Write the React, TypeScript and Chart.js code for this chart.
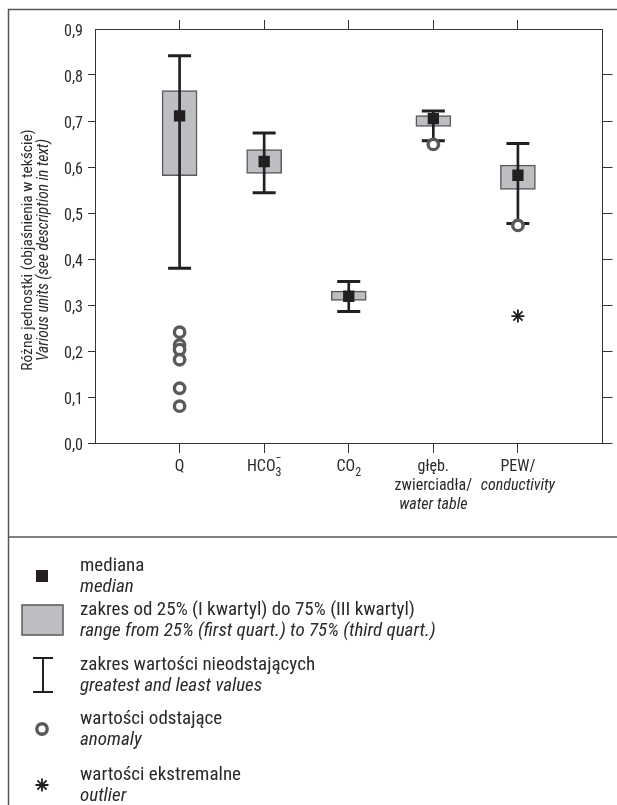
import React, { useEffect, useRef } from 'react';
import { Chart, registerables } from 'chart.js';

Chart.register(...registerables);

// ---------- data ----------
const categoryPositions = [1, 2, 3, 4, 5];
const categoryNames = ['Q', 'HCO3-', 'CO2', 'głęb. zwierciadła / water table', 'PEW / conductivity'];
const whiskerLow = [0.38, 0.544, 0.286, 0.657, 0.477];
const quartile1 = [0.581, 0.586, 0.31, 0.688, 0.551];
const medianValues = [0.711, 0.612, 0.319, 0.705, 0.582];
const quartile3 = [0.766, 0.638, 0.33, 0.712, 0.604];
const whiskerHigh = [0.842, 0.674, 0.351, 0.722, 0.651];

const anomalyCategory = [1, 1, 1, 1, 1, 1, 4, 5];
const anomalyValues = [0.241, 0.213, 0.203, 0.181, 0.119, 0.08, 0.649, 0.473];
const extremeCategory = [5];
const extremeValues = [0.276];

const yTickValues = [0, 0.1, 0.2, 0.3, 0.4, 0.5, 0.6, 0.7, 0.8, 0.9];

type Part = { text: string; italic?: boolean; sub?: boolean; overMinus?: boolean };
const xLabelLines: Part[][][] = [
  [[{ text: 'Q' }]],
  [[{ text: 'HCO' }, { text: '3', sub: true, overMinus: true }]],
  [[{ text: 'CO' }, { text: '2', sub: true }]],
  [[{ text: 'głęb.' }], [{ text: 'zwierciadła/' }], [{ text: 'water table', italic: true }]],
  [[{ text: 'PEW/' }], [{ text: 'conductivity', italic: true }]],
];

const yTitleLines = ['Różne jednostki (objaśnienia w tekście)', 'Various units (see description in text)'];

const legendSymbols = ['median', 'box', 'whisker', 'anomaly', 'extreme'];
const legendPolish = [
  'mediana',
  'zakres od 25% (I kwartyl) do 75% (III kwartyl)',
  'zakres wartości nieodstających',
  'wartości odstające',
  'wartości ekstremalne',
];
const legendEnglish = [
  'median',
  'range from 25% (first quart.) to 75% (third quart.)',
  'greatest and least values',
  'anomaly',
  'outlier',
];

// ---------- style ----------
const FONT = "'Liberation Sans Narrow', 'Arial Narrow', 'Roboto Condensed', 'DejaVu Sans Condensed', sans-serif";
const TEXT = '#2a2a2a';
const AXIS = '#333333';
const BOX_FILL = '#bdbec2';
const BOX_EDGE = '#5a5a5c';
const DARK = '#231f20';
const RING = '#5a5a5c';

function fmt(v: number) {
  return (Math.round(v * 10) / 10).toFixed(1).replace('.', ',');
}

function drawParts(ctx: CanvasRenderingContext2D, parts: Part[], cx: number, baseline: number, size: number) {
  const segs = parts.map((p) => {
    const fs = p.sub ? Math.round(size * 0.78) : size;
    ctx.font = `${p.italic ? 'italic ' : ''}${fs}px ${FONT}`;
    return { p, fs, w: ctx.measureText(p.text).width };
  });
  const total = segs.reduce((a, s) => a + s.w, 0);
  let x = cx - total / 2;
  for (const s of segs) {
    ctx.font = `${s.p.italic ? 'italic ' : ''}${s.fs}px ${FONT}`;
    const dy = s.p.sub ? size * 0.3 : 0;
    ctx.textAlign = 'left';
    ctx.fillText(s.p.text, x, baseline + dy);
    if (s.p.overMinus) {
      ctx.textAlign = 'center';
      ctx.fillText('\u2212', x + s.w / 2, baseline - size * 0.55);
    }
    x += s.w;
  }
}

const decorPlugin = {
  id: 'decor',
  beforeDraw(chart: any) {
    const ctx: CanvasRenderingContext2D = chart.ctx;
    ctx.save();
    ctx.fillStyle = '#ffffff';
    ctx.fillRect(0, 0, chart.width, chart.height);
    ctx.restore();
  },
  afterDraw(chart: any) {
    const ctx: CanvasRenderingContext2D = chart.ctx;
    const xs = chart.scales.x;
    const area = chart.chartArea;
    ctx.save();

    // outer frame and separator
    ctx.strokeStyle = '#555';
    ctx.lineWidth = 1.5;
    ctx.beginPath();
    ctx.moveTo(8.5, 805);
    ctx.lineTo(8.5, 9.5);
    ctx.lineTo(617, 9.5);
    ctx.moveTo(8, 537);
    ctx.lineTo(617, 537);
    ctx.stroke();

    // y title
    ctx.fillStyle = TEXT;
    ctx.textBaseline = 'middle';
    ctx.textAlign = 'center';
    ctx.save();
    ctx.translate(28, 250);
    ctx.rotate(-Math.PI / 2);
    ctx.font = `15.5px ${FONT}`;
    ctx.fillText(yTitleLines[0], 0, 0);
    ctx.font = `italic 15.5px ${FONT}`;
    ctx.fillText(yTitleLines[1], 0, 16);
    ctx.restore();

    // x labels
    ctx.textBaseline = 'alphabetic';
    categoryPositions.forEach((v, i) => {
      const px = xs.getPixelForValue(v);
      xLabelLines[i].forEach((line, j) => {
        drawParts(ctx, line, px, area.bottom + 28 + j * 19, 16);
      });
    });

    // legend
    const rows = [566, 610, 665, 719, 775];
    ctx.textAlign = 'left';
    ctx.textBaseline = 'middle';
    legendSymbols.forEach((sym, i) => {
      const y = rows[i];
      ctx.fillStyle = TEXT;
      ctx.font = `19px ${FONT}`;
      ctx.fillText(legendPolish[i], 80, y);
      ctx.font = `italic 19px ${FONT}`;
      ctx.fillText(legendEnglish[i], 80, y + 21);
      const sy = y + 10;
      if (sym === 'median') {
        ctx.fillStyle = DARK;
        ctx.fillRect(36, sy - 6, 12, 12);
      } else if (sym === 'box') {
        ctx.fillStyle = BOX_FILL;
        ctx.strokeStyle = BOX_EDGE;
        ctx.lineWidth = 1.5;
        ctx.fillRect(22, sy - 15, 41, 30);
        ctx.strokeRect(22, sy - 15, 41, 30);
      } else if (sym === 'whisker') {
        ctx.strokeStyle = DARK;
        ctx.lineWidth = 2;
        ctx.beginPath();
        ctx.moveTo(43, sy - 17);
        ctx.lineTo(43, sy + 17);
        ctx.moveTo(33, sy - 17);
        ctx.lineTo(53, sy - 17);
        ctx.moveTo(33, sy + 17);
        ctx.lineTo(53, sy + 17);
        ctx.stroke();
      } else if (sym === 'anomaly') {
        ctx.strokeStyle = RING;
        ctx.lineWidth = 3.4;
        ctx.beginPath();
        ctx.arc(42, sy, 5.2, 0, Math.PI * 2);
        ctx.stroke();
      } else if (sym === 'extreme') {
        ctx.strokeStyle = DARK;
        ctx.lineWidth = 1.8;
        ctx.beginPath();
        const r = 6.5;
        for (let k = 0; k < 4; k++) {
          const a = (k * Math.PI) / 4;
          ctx.moveTo(42 - r * Math.cos(a), sy - r * Math.sin(a));
          ctx.lineTo(42 + r * Math.cos(a), sy + r * Math.sin(a));
        }
        ctx.stroke();
      }
    });

    ctx.restore();
  },
};

export default function App() {
  const ref = useRef<HTMLCanvasElement | null>(null);

  useEffect(() => {
    const canvas = ref.current;
    if (!canvas) return;

    const boxData = categoryPositions.map((x, i) => ({ x, y: [quartile1[i], quartile3[i]] }));
    const whiskerData = categoryPositions.map((x, i) => ({ x, y: [whiskerLow[i], whiskerHigh[i]] }));
    const capData = categoryPositions.flatMap((x, i) => [
      { x, y: whiskerLow[i] },
      { x, y: whiskerHigh[i] },
    ]);
    const medianData = categoryPositions.map((x, i) => ({ x, y: medianValues[i] }));
    const anomalyData = anomalyCategory.map((x, i) => ({ x, y: anomalyValues[i] }));
    const extremeData = extremeCategory.map((x, i) => ({ x, y: extremeValues[i] }));

    const catTicks = (s: any) => {
      s.ticks = categoryPositions.map((v) => ({ value: v }));
    };
    const yTicks = (s: any) => {
      s.ticks = yTickValues.map((v) => ({ value: v }));
    };
    const yTickColor = (c: any) => (c.tick && c.tick.value >= 0.85 ? 'rgba(0,0,0,0)' : AXIS);

    const chart = new Chart(canvas, {
      type: 'bar',
      data: {
        datasets: [
          {
            type: 'scatter',
            label: 'mediana',
            data: medianData,
            pointStyle: 'rect',
            pointRadius: 8,
            backgroundColor: DARK,
            borderColor: DARK,
            borderWidth: 0,
            xAxisID: 'x',
            yAxisID: 'y',
            order: 0,
          },
          {
            type: 'scatter',
            label: 'wartości odstające',
            data: anomalyData,
            pointStyle: 'circle',
            pointRadius: 5.2,
            borderWidth: 3.4,
            borderColor: RING,
            backgroundColor: '#ffffff',
            xAxisID: 'x',
            yAxisID: 'y',
            order: 1,
          },
          {
            type: 'scatter',
            label: 'wartości ekstremalne',
            data: extremeData,
            pointStyle: 'star',
            pointRadius: 6.5,
            borderWidth: 1.8,
            borderColor: DARK,
            backgroundColor: DARK,
            xAxisID: 'x',
            yAxisID: 'y',
            order: 1,
          },
          {
            type: 'scatter',
            label: 'caps',
            data: capData,
            pointStyle: 'line',
            pointRadius: 11.5,
            borderWidth: 3,
            borderColor: DARK,
            backgroundColor: DARK,
            xAxisID: 'x',
            yAxisID: 'y',
            order: 2,
          },
          {
            type: 'bar',
            label: 'zakres wartości nieodstających',
            data: whiskerData as any,
            grouped: false,
            barThickness: 2,
            maxBarThickness: 2,
            backgroundColor: DARK,
            borderWidth: 0,
            xAxisID: 'x',
            yAxisID: 'y',
            order: 3,
          },
          {
            type: 'bar',
            label: 'zakres od 25% do 75%',
            data: boxData as any,
            grouped: false,
            barThickness: 35,
            maxBarThickness: 35,
            backgroundColor: BOX_FILL,
            borderColor: BOX_EDGE,
            borderWidth: 1.5,
            borderSkipped: false,
            xAxisID: 'x',
            yAxisID: 'y',
            order: 4,
          },
        ] as any,
      },
      options: {
        responsive: false,
        animation: false,
        devicePixelRatio: 1,
        events: [],
        layout: { padding: { top: 0, left: 0, right: 0, bottom: 268 } },
        plugins: { legend: { display: false }, tooltip: { enabled: false }, title: { display: false } },
        scales: {
          x: {
            type: 'linear',
            position: 'bottom',
            min: 0,
            max: 6,
            offset: false,
            afterBuildTicks: catTicks,
            afterFit: (s: any) => {
              s.height = 94;
            },
            ticks: { display: false },
            grid: { drawOnChartArea: false, drawTicks: true, tickLength: 10, color: AXIS, lineWidth: 1, offset: false },
            border: { display: true, color: AXIS, width: 1 },
          },
          xTop: {
            type: 'linear',
            position: 'top',
            min: 0,
            max: 6,
            offset: false,
            afterBuildTicks: catTicks,
            afterFit: (s: any) => {
              s.height = 29;
            },
            ticks: { display: false },
            grid: { drawOnChartArea: false, drawTicks: true, tickLength: 9, color: AXIS, lineWidth: 1, offset: false },
            border: { display: true, color: AXIS, width: 1 },
          },
          y: {
            type: 'linear',
            position: 'left',
            min: 0,
            max: 0.9,
            afterBuildTicks: yTicks,
            afterFit: (s: any) => {
              s.width = 95;
            },
            ticks: {
              callback: (v: any) => fmt(Number(v)),
              font: { family: FONT, size: 16 },
              color: TEXT,
              padding: 5,
              labelOffset: 3,
            },
            grid: { drawOnChartArea: false, drawTicks: true, tickLength: 7, color: yTickColor, lineWidth: 1 },
            border: { display: true, color: AXIS, width: 1 },
          },
          yRight: {
            type: 'linear',
            position: 'right',
            min: 0,
            max: 0.9,
            afterBuildTicks: yTicks,
            afterFit: (s: any) => {
              s.width = 10;
            },
            ticks: { display: false },
            grid: { drawOnChartArea: false, drawTicks: true, tickLength: 10, color: yTickColor, lineWidth: 1 },
            border: { display: true, color: AXIS, width: 1 },
          },
        },
      } as any,
      plugins: [decorPlugin],
    });

    return () => chart.destroy();
  }, []);

  return (
    <div style={{ position: 'absolute', left: 0, top: 0, width: 617, height: 805, background: '#fff' }}>
      <canvas
        ref={ref}
        width={617}
        height={805}
        aria-label={`Box plot: ${categoryNames.join(', ')}`}
        style={{ display: 'block', width: 617, height: 805 }}
      />
    </div>
  );
}
